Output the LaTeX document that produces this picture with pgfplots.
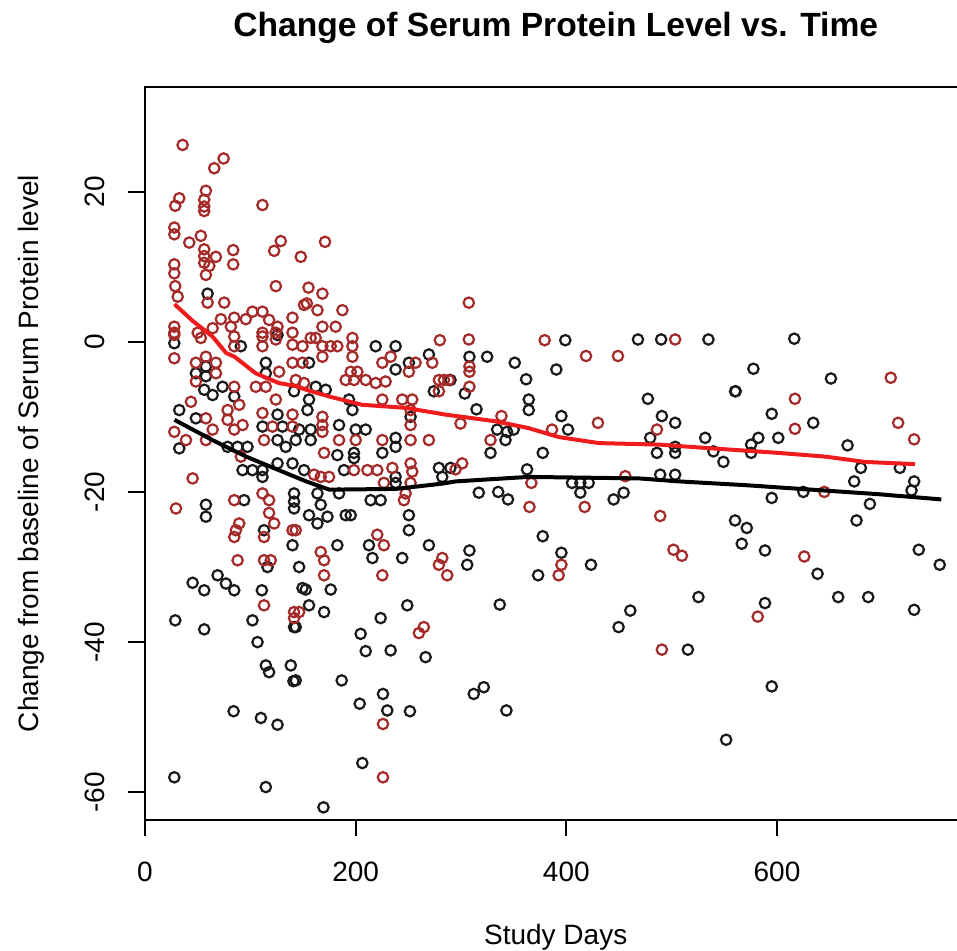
\documentclass[border=0pt]{standalone}
\usepackage{pgfplots}
\pgfplotsset{compat=1.18}
\usepackage{fontspec}
\setmainfont{Liberation Sans}
\definecolor{ptblack}{HTML}{1A1A1A}
\definecolor{ptred}{HTML}{A52A2A}
\definecolor{lnred}{HTML}{EE1C1C}

\pgfplotstableread{
x y
59.4 6.4
27.8 -0.2
48.3 -4.2
57.8 -3.3
125.8 0.9
91 -0.6
57.8 -4.6
73.6 -6.0
64.2 -7.1
56.2 -6.4
84.7 -7.3
114.7 -2.8
114.7 -4.2
141.5 -6.6
32.5 -9.1
48.3 -10.2
32.5 -14.2
78.4 -14.0
87.9 -14.0
97.3 -14.0
92.6 -17.1
102 -17.1
111.5 -17.1
111.5 -18.0
111.5 -11.3
130.5 -11.3
125.8 -9.7
125.8 -13.1
133.6 -14.0
125.8 -16.2
140 -16.2
94.1 -21.1
141.5 -20.2
141.5 -21.3
141.5 -22.2
57.8 -21.7
57.8 -23.3
113 -25.1
140 -27.1
116.3 -30.0
146.3 -30.0
45.2 -32.1
56.2 -33.1
68.9 -31.1
76.8 -32.2
84.7 -33.1
110.9 -33.1
149.5 -32.8
141.5 -38.0
28.7 -37.1
56.2 -38.3
102 -37.1
106.8 -40.0
114.7 -43.1
117.8 -44.0
138.4 -43.1
140.9 -45.2
84.1 -49.2
110 -50.1
125.8 -51.0
27.8 -58.0
114.7 -59.3
219 -0.6
237.9 -0.6
155.7 -2.8
237.9 -3.7
250.5 -2.8
269.5 -1.7
274.2 -6.6
290 -5.1
162.1 -6.0
171.6 -6.4
155.7 -7.7
154.2 -9.1
193.6 -7.7
196.9 -9.1
252.1 -10.0
184.2 -11.1
157.3 -11.7
157.3 -13.1
146.3 -11.7
143.1 -13.1
200 -11.7
209.5 -11.7
237.9 -12.8
237.9 -14.0
182.6 -15.1
198.4 -14.8
198.4 -15.5
225.3 -14.8
151 -17.1
188.9 -17.1
237.9 -18.0
237.9 -18.8
279 -16.8
290 -16.8
282.2 -18.0
163.7 -20.2
184.2 -20.2
214.2 -21.1
223.7 -21.1
166.8 -21.7
155.7 -23.1
163.7 -24.2
173.2 -23.3
190.5 -23.1
195.3 -23.1
250.5 -23.1
250.5 -25.1
212.6 -27.1
182.6 -27.1
269.5 -27.1
215.9 -28.8
244.2 -28.8
152.6 -33.0
176.3 -33.0
155.7 -35.1
170 -36.0
143.1 -38.0
249 -35.1
223.7 -36.8
204.7 -38.9
209.5 -41.2
233.2 -41.1
266.4 -42.0
143.1 -45.1
186.7 -45.1
225.9 -46.9
203.8 -48.2
230 -49.1
251.5 -49.2
206.3 -56.1
169.4 -62.0
399 0.2
468 0.3
490 0.3
534.9 0.3
616.4 0.4
324.8 -2.0
351 -2.8
390.5 -3.7
361.8 -5.0
577.6 -3.6
560.2 -6.6
560.8 -6.6
651.2 -4.9
308 -2.0
303.6 -6.9
364.3 -7.7
364.3 -9.1
477.4 -7.6
314.7 -9.0
395.3 -9.9
490.7 -9.9
503.3 -10.8
595 -9.6
634.4 -10.8
334.3 -11.7
343.7 -12.0
350 -11.7
342.2 -13.1
328 -14.8
377.6 -14.8
401.6 -11.7
479.6 -12.8
486 -14.8
503.3 -14.0
503.3 -14.8
531.8 -12.8
539.6 -14.6
549.1 -16.0
575.4 -13.7
575.4 -14.8
582.3 -12.8
601.2 -12.8
667 -13.8
679.6 -16.8
716.6 -16.8
673.3 -18.6
730.2 -18.6
727.7 -19.8
688.2 -21.6
675.5 -23.8
734.6 -27.7
754.5 -29.7
362.7 -17.0
316.9 -20.1
335.3 -20.0
344.6 -21.0
405.4 -18.8
413.3 -18.8
421.2 -18.8
413.3 -20.1
444.9 -21.0
454.4 -20.1
489.1 -17.7
503.3 -17.7
595 -20.8
625 -20.0
377.6 -25.9
560.2 -23.8
571.3 -24.8
566.5 -26.9
588.6 -27.8
308 -27.8
395.3 -28.1
305.9 -29.7
373.2 -31.1
423.4 -29.7
638.5 -30.9
336.8 -35.0
460.7 -35.8
449.6 -38.0
525.4 -34.0
588.6 -34.8
658.1 -34.0
686.6 -34.0
730.2 -35.7
515.4 -41.0
312.1 -46.9
321.6 -46.0
343.1 -49.1
595 -45.9
551.7 -53.0
}\blackpts

\pgfplotstableread{
x y
35.7 26.2
74.6 24.4
65.7 23.1
57.8 20.1
32.5 19.1
28.7 18.1
56.2 18.9
56.2 18.0
56.2 17.4
111.5 18.2
27.8 15.2
27.8 14.3
42 13.2
53 14.1
56.2 12.3
56.2 11.4
56.2 10.5
67.3 11.3
61 10.1
57.8 8.9
83.7 12.2
83.7 10.3
128.9 13.4
122.6 12.1
147.9 11.3
124.2 7.4
27.8 10.3
27.8 9.1
28.7 7.4
31 6.0
59.4 5.2
75.2 5.2
72 3.0
84.7 3.2
95.7 3.0
102 4.0
111.5 4.0
117.8 2.9
125.8 2.0
140 3.2
151 4.9
27.8 2.0
27.8 1.2
50 1.2
64.2 1.8
81.5 2.0
111.5 1.2
124 1.2
140 1.2
170.9 13.3
155.2 7.2
168.4 6.4
153.6 5.1
163.7 4.2
187.4 4.2
168.4 2.0
181 2.0
162 0.5
196.9 0.5
27.8 0.9
27.8 -2.2
48.3 -2.8
48.3 -5.3
57.8 -2.0
67.3 -2.8
67.3 -4.2
53 0.5
84.7 0.7
84.7 -0.6
111.5 0.7
111.5 -0.6
124.2 0.3
140 -0.4
84.7 -6.0
105.2 -6.0
114.7 -6.0
127.3 -4.0
140 -2.8
149.5 -2.8
124.2 -7.7
78.4 -9.1
78.4 -10.4
89.4 -8.4
92.6 -11.1
84.7 -11.7
43.6 -8.0
57.8 -10.2
27.8 -12.0
38.9 -13.1
57.8 -13.1
64.2 -11.7
91 -15.3
121 -11.3
140 -11.3
111.5 -9.5
140 -9.7
113 -13.1
84.7 -21.1
111.5 -20.2
117.8 -21.1
45.2 -18.2
29.4 -22.2
89.4 -24.2
86.3 -25.1
84.7 -26.0
117.8 -22.8
122.6 -24.2
113 -26.0
140 -25.1
87.9 -29.1
113 -29.1
119.4 -29.1
113 -35.1
141.5 -36.0
141.5 -36.8
279.9 0.2
225.3 -2.8
233.2 -2.0
256.9 -2.8
272.7 -2.8
250.5 -4.0
149.5 -0.6
157.3 0.5
168.4 -0.6
176.3 -0.6
182.6 -0.6
196.9 -0.6
196.9 -2.0
168.4 -2.0
195.3 -4.0
201.6 -4.0
198.4 -5.1
190.5 -5.1
209.5 -5.1
219 -5.5
228.4 -5.3
279 -5.1
283.8 -5.1
279 -6.6
143.1 -5.1
151 -5.5
225.3 -7.7
244.2 -7.7
253.7 -7.7
252.1 -9.1
252.1 -11.1
168.4 -10.0
168.4 -11.1
168.4 -12.0
200 -13.1
184.2 -13.1
225.3 -13.1
252.1 -13.1
269.5 -13.1
170 -14.8
160.5 -17.7
166.8 -18.0
174.7 -18.0
198.4 -17.1
211.1 -17.1
220.5 -17.1
234.8 -16.8
252.1 -16.2
253.7 -17.3
226.8 -18.8
252.1 -18.8
247.4 -20.2
245.8 -21.1
143.1 -25.1
220.5 -25.7
226.8 -27.1
166.8 -28.0
170 -29.1
282.2 -28.8
279 -29.7
286.9 -31.1
170 -31.1
225.3 -31.1
146.3 -36.0
264.7 -38.0
260 -38.8
225.9 -50.9
225.9 -58.0
307.4 5.2
307.4 0.3
379.4 0.2
503.3 0.3
418.7 -1.9
449 -1.9
708 -4.8
308 -3.3
308 -4.0
288.4 -5.1
308 -6.0
617 -7.6
617 -11.6
715 -10.8
730.2 -13.0
338.4 -9.9
299.5 -10.9
328 -13.1
386.4 -11.7
430 -10.8
486 -11.7
294.8 -17.0
301.1 -16.2
366.8 -18.8
456 -17.9
644.9 -20.0
365 -22.0
417.4 -22.0
489.1 -23.2
501.7 -27.7
509.7 -28.5
625.9 -28.6
395.3 -29.7
392.7 -31.1
581.7 -36.6
490.7 -41.0
}\redpts

\pgfplotstableread{
x y
28 5.0
45 2.8
64 0.7
77 -1.5
85 -2.0
105 -4.2
127 -5.5
143 -5.9
153 -6.4
175 -7.3
206 -8.4
247 -8.8
285 -9.7
333 -10.6
364 -11.5
393 -12.7
431 -13.5
488 -13.7
538 -14.2
601 -14.8
646 -15.3
683 -16.0
731 -16.3
}\redline

\pgfplotstableread{
x y
28 -10.4
64 -13.1
96 -15.3
127 -17.1
153 -18.6
175 -19.7
238 -19.6
282 -18.9
295 -18.6
364 -18.0
469 -18.2
507 -18.6
570 -19.1
633 -19.7
696 -20.3
756 -21.0
}\blackline

\begin{document}
\begin{tikzpicture}
\begin{axis}[
  at={(0,0)}, anchor=south west,
  scale only axis, width=411.25pt, height=366pt,
  xmin=-0.5, xmax=780.4, ymin=-63.62, ymax=33.85,
  axis line style={line width=1pt, black},
  xtick={0,200,400,600}, ytick={-60,-40,-20,0,20},
  xtick pos=bottom, ytick pos=left,
  tick align=outside, major tick length=8pt,
  tick style={line width=1pt, black},
  ticklabel style={font=\fontsize{14pt}{16pt}\selectfont},
  /pgf/number format/assume math mode=true,
  xticklabel style={anchor=base},
  xticklabel shift=23pt,
  yticklabel style={rotate=90, anchor=base},
  yticklabel shift=12pt,
  clip mode=individual,
]
\addplot[only marks, mark=o, mark size=2.6pt, mark options={line width=1.1pt, draw=ptblack}] table {\blackpts};
\addplot[only marks, mark=o, mark size=2.6pt, mark options={line width=1.1pt, draw=ptred}] table {\redpts};
\addplot[no marks, line width=2pt, lnred] table {\redline};
\addplot[no marks, line width=2pt, black] table {\blackline};
\end{axis}
\node[font=\bfseries\fontsize{16.8pt}{20pt}\selectfont, anchor=base] at (205.6pt,391.75pt) {Change of Serum Protein Level vs. Time};
\node[font=\fontsize{14pt}{16pt}\selectfont, anchor=base] at (205.6pt,-62.25pt) {Study Days};
\node[font=\fontsize{14pt}{16pt}\selectfont, rotate=90, anchor=base] at (-53pt,183pt) {Change from baseline of Serum Protein level};
\pgfresetboundingbox
\useasboundingbox (-72.25pt,-65.25pt) rectangle (406.25pt,409.75pt);
\end{tikzpicture}
\end{document}
